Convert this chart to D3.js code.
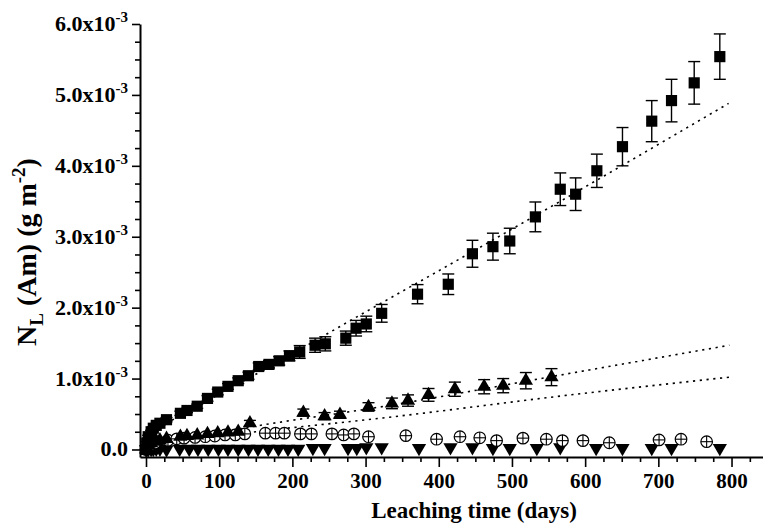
<!DOCTYPE html>
<html>
<head>
<meta charset="utf-8">
<script src="https://cdn.jsdelivr.net/npm/d3@7"></script>
<style>
  body { margin: 0; background: #fff; }
  text { font-family: "Liberation Serif", "Times New Roman", serif; font-weight: bold; fill: #000; }
</style>
</head>
<body>
<svg id="chart" width="763" height="524"></svg>
<script>
// Valeurs en 10^-3 g m-2, temps en jours

// Carrés pleins (avec barres d'erreur)
const sqDays = [0, 1, 3, 7, 10, 14, 19, 28, 47, 56, 70, 84, 98, 112, 126, 140, 154, 168, 182, 196, 210, 231, 245, 273, 287, 301, 322, 371, 413, 446, 474, 497, 532, 566, 587, 616, 651, 691, 718, 749, 784];
const sqVal = [0.0, 0.09, 0.18, 0.25, 0.30, 0.34, 0.37, 0.42, 0.51, 0.55, 0.61, 0.72, 0.81, 0.89, 0.97, 1.04, 1.17, 1.20, 1.25, 1.32, 1.375, 1.47, 1.49, 1.57, 1.71, 1.77, 1.92, 2.19, 2.33, 2.76, 2.86, 2.94, 3.28, 3.67, 3.60, 3.93, 4.27, 4.63, 4.92, 5.17, 5.54];
const sqErr = [0.01, 0.02, 0.02, 0.02, 0.02, 0.02, 0.02, 0.03, 0.03, 0.03, 0.03, 0.04, 0.04, 0.04, 0.04, 0.05, 0.05, 0.05, 0.06, 0.07, 0.09, 0.1, 0.1, 0.1, 0.11, 0.11, 0.125, 0.135, 0.145, 0.19, 0.19, 0.18, 0.21, 0.23, 0.23, 0.235, 0.27, 0.29, 0.30, 0.30, 0.32];

// Triangles pleins (avec barres d'erreur)
const triDays = [0, 1, 3, 7, 10, 14, 19, 28, 47, 56, 70, 84, 98, 112, 126, 142, 215, 244, 265, 304, 336, 358, 386, 422, 462, 488, 519, 554];
const triVal = [0, 0.03, 0.06, 0.09, 0.11, 0.12, 0.13, 0.15, 0.18, 0.19, 0.20, 0.22, 0.23, 0.24, 0.25, 0.37, 0.52, 0.47, 0.49, 0.60, 0.65, 0.69, 0.77, 0.85, 0.885, 0.90, 0.97, 1.02];
const triErr = [0.01, 0.01, 0.01, 0.01, 0.01, 0.01, 0.01, 0.02, 0.02, 0.02, 0.02, 0.02, 0.02, 0.03, 0.03, 0.04, 0.05, 0.05, 0.05, 0.06, 0.075, 0.08, 0.09, 0.1, 0.1, 0.1, 0.115, 0.12];

// Cercles barrés
const cirDays = [0, 3, 7, 12, 30, 42, 52, 67, 81, 94, 108, 122, 135, 163, 177, 189, 211, 226, 254, 270, 284, 304, 355, 397, 429, 456, 479, 515, 547, 569, 597, 633, 701, 731, 766];
const cirVal = [0, 0.04, 0.07, 0.09, 0.13, 0.15, 0.16, 0.17, 0.18, 0.19, 0.205, 0.205, 0.22, 0.23, 0.23, 0.23, 0.22, 0.22, 0.22, 0.205, 0.22, 0.18, 0.195, 0.145, 0.18, 0.165, 0.125, 0.16, 0.145, 0.125, 0.125, 0.095, 0.135, 0.145, 0.11];

// Triangles inversés
const dnDays = [0, 1, 3, 7, 10, 14, 19, 28, 46, 59, 71, 85, 99, 112, 126, 140, 153, 167, 181, 194, 208, 228, 244, 276, 288, 301, 322, 373, 416, 446, 474, 497, 534, 566, 615, 651, 691, 718, 784];
const dnVal = [0, 0, 0, 0.005, 0.005, 0.01, 0.01, 0.0, 0.01, 0.01, 0.01, 0.01, 0.01, 0.01, 0.01, 0.01, 0.01, 0.01, 0.01, 0.01, 0.01, 0.02, 0.02, 0.02, 0.02, 0.03, 0.03, 0.02, 0.03, 0.03, 0.02, 0.02, 0.02, 0.03, 0.02, 0.02, 0.02, 0.02, 0.02];

// Courbes d'ajustement (pointillés)
const fitADays = [0, 5, 15, 30, 60, 100, 150, 200, 283, 400, 566, 796];
const fitAVal = [0.0, 0.15, 0.28, 0.38, 0.55, 0.78, 1.06, 1.35, 1.84, 2.52, 3.5, 4.88];
const fitBDays = [0, 150, 320, 580, 797];
const fitBVal = [0.05, 0.33, 0.6, 1.075, 1.47];
const fitCDays = [0, 150, 320, 580, 797];
const fitCVal = [0.05, 0.25, 0.44, 0.77, 1.02];

// Graduations
const xMajor = [0, 100, 200, 300, 400, 500, 600, 700, 800];
const yMajor = [0, 1, 2, 3, 4, 5, 6];

const svg = d3.select("#chart");

// Échelles
const xScale = d3.scaleLinear().domain([-8.2, 843]).range([140, 763]);
const yScale = d3.scaleLinear().domain([-0.106, 6]).range([457, 24]);

// Axes
const xMinor = d3.range(25, 850, 25).filter(d => d % 100 !== 0 && d < 843);
const yMinor = d3.range(0.25, 6, 0.25).filter(d => d % 1 !== 0);

svg.append("g")
  .attr("transform", "translate(0,457)")
  .call(d3.axisBottom(xScale).tickValues(xMinor).tickSize(5).tickSizeOuter(0).tickFormat(""))
  .call(g => g.select(".domain").remove());

const gx = svg.append("g")
  .attr("transform", "translate(0,457)")
  .call(d3.axisBottom(xScale).tickValues(xMajor).tickSize(10).tickSizeOuter(0).tickPadding(6).tickFormat(d3.format("d")));
gx.select(".domain").attr("stroke-width", 2);
gx.selectAll("text").style("font-size", "21px").attr("font-family", null);

svg.append("g")
  .attr("transform", "translate(140,0)")
  .call(d3.axisLeft(yScale).tickValues(yMinor).tickSize(5).tickSizeOuter(0).tickFormat(""))
  .call(g => g.select(".domain").remove());

const gy = svg.append("g")
  .attr("transform", "translate(140,0)")
  .call(d3.axisLeft(yScale).tickValues(yMajor).tickSize(8).tickSizeOuter(0).tickPadding(10).tickFormat(""));
gy.select(".domain").attr("stroke-width", 2);

svg.selectAll(".tick line").attr("stroke-width", 1.6);

// Étiquettes de l'axe Y (notation 10^-3)
yMajor.forEach(d => {
  const t = svg.append("text")
    .attr("x", 128)
    .attr("y", yScale(d) + 7)
    .attr("text-anchor", "end")
    .style("font-size", "22px");
  if (d === 0) {
    t.text("0.0");
  } else {
    t.append("tspan").text(d.toFixed(1) + "x10");
    t.append("tspan").attr("dy", -9).style("font-size", "15px").text("-3");
  }
});

// Titres des axes
svg.append("text")
  .attr("x", 474)
  .attr("y", 518)
  .attr("text-anchor", "middle")
  .style("font-size", "23px")
  .text("Leaching time (days)");

const yl = svg.append("text")
  .attr("transform", "translate(36,252) rotate(-90)")
  .attr("text-anchor", "middle")
  .style("font-size", "28px");
yl.append("tspan").text("N");
yl.append("tspan").attr("dy", 7).style("font-size", "19px").text("L");
yl.append("tspan").attr("dy", -7).text(" (Am) (g m");
yl.append("tspan").attr("dy", -11).style("font-size", "19px").text("-2");
yl.append("tspan").attr("dy", 11).text(")");

// Lignes pointillées
const line = d3.line()
  .x(d => xScale(d[0]))
  .y(d => yScale(d[1]))
  .curve(d3.curveMonotoneX);

[[fitADays, fitAVal], [fitBDays, fitBVal], [fitCDays, fitCVal]].forEach(([days, vals]) => {
  svg.append("path")
    .datum(days.map((d, i) => [d, vals[i]]))
    .attr("d", line)
    .attr("fill", "none")
    .attr("stroke", "#000")
    .attr("stroke-width", 1.6)
    .attr("stroke-dasharray", "2.2,4.6");
});

// Barres d'erreur
function errorBars(days, vals, errs) {
  const g = svg.append("g").attr("stroke", "#000").attr("stroke-width", 1.4);
  days.forEach((d, i) => {
    const x = xScale(d);
    const y1 = yScale(vals[i] + errs[i]);
    const y2 = yScale(vals[i] - errs[i]);
    g.append("line").attr("x1", x).attr("x2", x).attr("y1", y1).attr("y2", y2);
    g.append("line").attr("x1", x - 6).attr("x2", x + 6).attr("y1", y1).attr("y2", y1);
    g.append("line").attr("x1", x - 6).attr("x2", x + 6).attr("y1", y2).attr("y2", y2);
  });
}

errorBars(sqDays, sqVal, sqErr);
errorBars(triDays, triVal, triErr);

// Symboles
const sym = {
  square: d3.symbol().type(d3.symbolSquare).size(125),
  tri: d3.symbol().type(d3.symbolTriangle).size(88)
};

// Triangles inversés
svg.append("g").selectAll("path")
  .data(dnDays.map((d, i) => [d, dnVal[i]]))
  .join("path")
  .attr("d", sym.tri())
  .attr("transform", d => `translate(${xScale(d[0])},${yScale(d[1])}) rotate(180)`)
  .attr("fill", "#000");

// Cercles barrés
const cg = svg.append("g").selectAll("g")
  .data(cirDays.map((d, i) => [d, cirVal[i]]))
  .join("g")
  .attr("transform", d => `translate(${xScale(d[0])},${yScale(d[1])})`);
cg.append("circle").attr("r", 5.8).attr("fill", "#fff").attr("stroke", "#000").attr("stroke-width", 1.2);
cg.append("line").attr("x1", -5.8).attr("x2", 5.8).attr("stroke", "#000").attr("stroke-width", 1.1);
cg.append("line").attr("y1", -5.8).attr("y2", 5.8).attr("stroke", "#000").attr("stroke-width", 1.1);

// Triangles pleins
svg.append("g").selectAll("path")
  .data(triDays.map((d, i) => [d, triVal[i]]))
  .join("path")
  .attr("d", sym.tri())
  .attr("transform", d => `translate(${xScale(d[0])},${yScale(d[1])})`)
  .attr("fill", "#000");

// Carrés pleins
svg.append("g").selectAll("path")
  .data(sqDays.map((d, i) => [d, sqVal[i]]))
  .join("path")
  .attr("d", sym.square())
  .attr("transform", d => `translate(${xScale(d[0])},${yScale(d[1])})`)
  .attr("fill", "#000");
</script>
</body>
</html>
